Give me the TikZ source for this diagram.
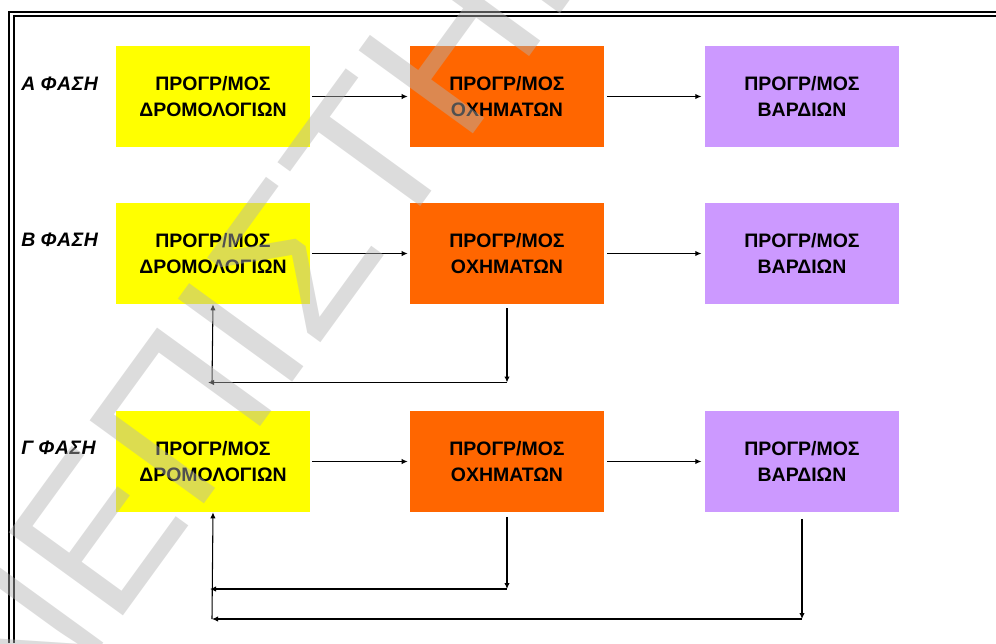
\documentclass[tikz,border=0pt]{standalone}
\usepackage{fontspec}
\setmainfont{Liberation Sans}
\usetikzlibrary{arrows.meta}
\definecolor{boxyellow}{RGB}{255,255,0}
\definecolor{boxorange}{RGB}{255,102,0}
\definecolor{boxpurple}{RGB}{204,153,255}
\definecolor{wmgray}{RGB}{178,178,178}
\tikzset{
  stage/.style={minimum width=145.5pt, minimum height=75.75pt, inner sep=0pt, align=center,
    font=\bfseries\fontsize{14.6}{19.5}\selectfont},
  ybox/.style={stage, fill=boxyellow},
  obox/.style={stage, fill=boxorange},
  pbox/.style={stage, fill=boxpurple},
  phase/.style={anchor=base west, inner sep=0pt, font=\bfseries\itshape\fontsize{14.6}{19.5}\selectfont},
  arr/.style={draw=black, line width=0.8pt, -{Latex[length=4.5pt,width=4pt]}},
  wm/.style={rotate=54, inner sep=0pt, text=wmgray, text opacity=0.45, font=\fontsize{154}{154}\selectfont}
}
\newcommand{\phs}[1]{#1\hspace{4pt}Φ\hspace{0.4pt}Α\hspace{0.4pt}Σ\hspace{0.4pt}Η}
\begin{document}
\begin{tikzpicture}[x=0.75pt, y=-0.75pt]
\useasboundingbox (0,0) rectangle (996,643);
% frame
\draw[line width=1.5pt] (9.2,643) -- (9.2,11.7) -- (996,11.7);
\draw[line width=1.3pt] (14.2,643) -- (14.2,15.9) -- (996,15.9);

% row A
\node[phase] (la) at (21,90) {\phs{Α}};
\node[ybox] (ya) at (213,96.5) {ΠΡΟΓΡ/ΜΟΣ\\ΔΡΟΜΟΛΟΓΙΩΝ};
\node[obox] (oa) at (507,96.5) {ΠΡΟΓΡ/ΜΟΣ\\ΟΧΗΜΑΤΩΝ};
\node[pbox] (pa) at (802,96.5) {ΠΡΟΓΡ/ΜΟΣ\\ΒΑΡΔΙΩΝ};
% row B
\node[phase] (lb) at (21,246.5) {\phs{Β}};
\node[ybox] (yb) at (213,253.5) {ΠΡΟΓΡ/ΜΟΣ\\ΔΡΟΜΟΛΟΓΙΩΝ};
\node[obox] (ob) at (507,253.5) {ΠΡΟΓΡ/ΜΟΣ\\ΟΧΗΜΑΤΩΝ};
\node[pbox] (pb) at (802,253.5) {ΠΡΟΓΡ/ΜΟΣ\\ΒΑΡΔΙΩΝ};
% row C
\node[phase] (lc) at (21,454.5) {\phs{Γ}};
\node[ybox] (yc) at (213,461.5) {ΠΡΟΓΡ/ΜΟΣ\\ΔΡΟΜΟΛΟΓΙΩΝ};
\node[obox] (oc) at (507,461.5) {ΠΡΟΓΡ/ΜΟΣ\\ΟΧΗΜΑΤΩΝ};
\node[pbox] (pc) at (802,461.5) {ΠΡΟΓΡ/ΜΟΣ\\ΒΑΡΔΙΩΝ};

% horizontal flow arrows
\foreach \r in {a,b,c}{
  \draw[arr, shorten <=1.5pt, shorten >=1.5pt] (y\r.east) -- (o\r.west);
  \draw[arr, shorten <=2.2pt, shorten >=2.5pt] (o\r.east) -- (p\r.west);
}

% feedback row B
\coordinate (bR) at (507,382.5);
\coordinate (bL) at (208,382.5);
\coordinate (bU) at (212,382.5);
\draw[arr, shorten <=3pt] (ob.south) -- (bR);
\draw[arr] (bR) -- (bL);
\draw[arr] (bU) -- (yb.south);

% feedback row C
\coordinate (cR) at (507,589);
\coordinate (cL) at (210,589);
\coordinate (cU) at (212,619);
\coordinate (cP) at (802,619);
\draw[arr, shorten <=3.5pt] (oc.south) -- (cR);
\draw[arr] (cR) -- (cL);
\draw[arr] (cU) -- (yc.south);
\draw[arr, shorten <=5pt] (pc.south) -- (cP);
\draw[arr] (cP) -- (cU);

% watermark
\coordinate (wmo) at (194,518);
\node[wm, anchor=base west] (wm1) at (wmo) {ΠΙΣΤΗΜΙΟ};
\node[wm, anchor=base east] (wm2) at (wmo) {ΠΑΝΕ};
\end{tikzpicture}
\end{document}
